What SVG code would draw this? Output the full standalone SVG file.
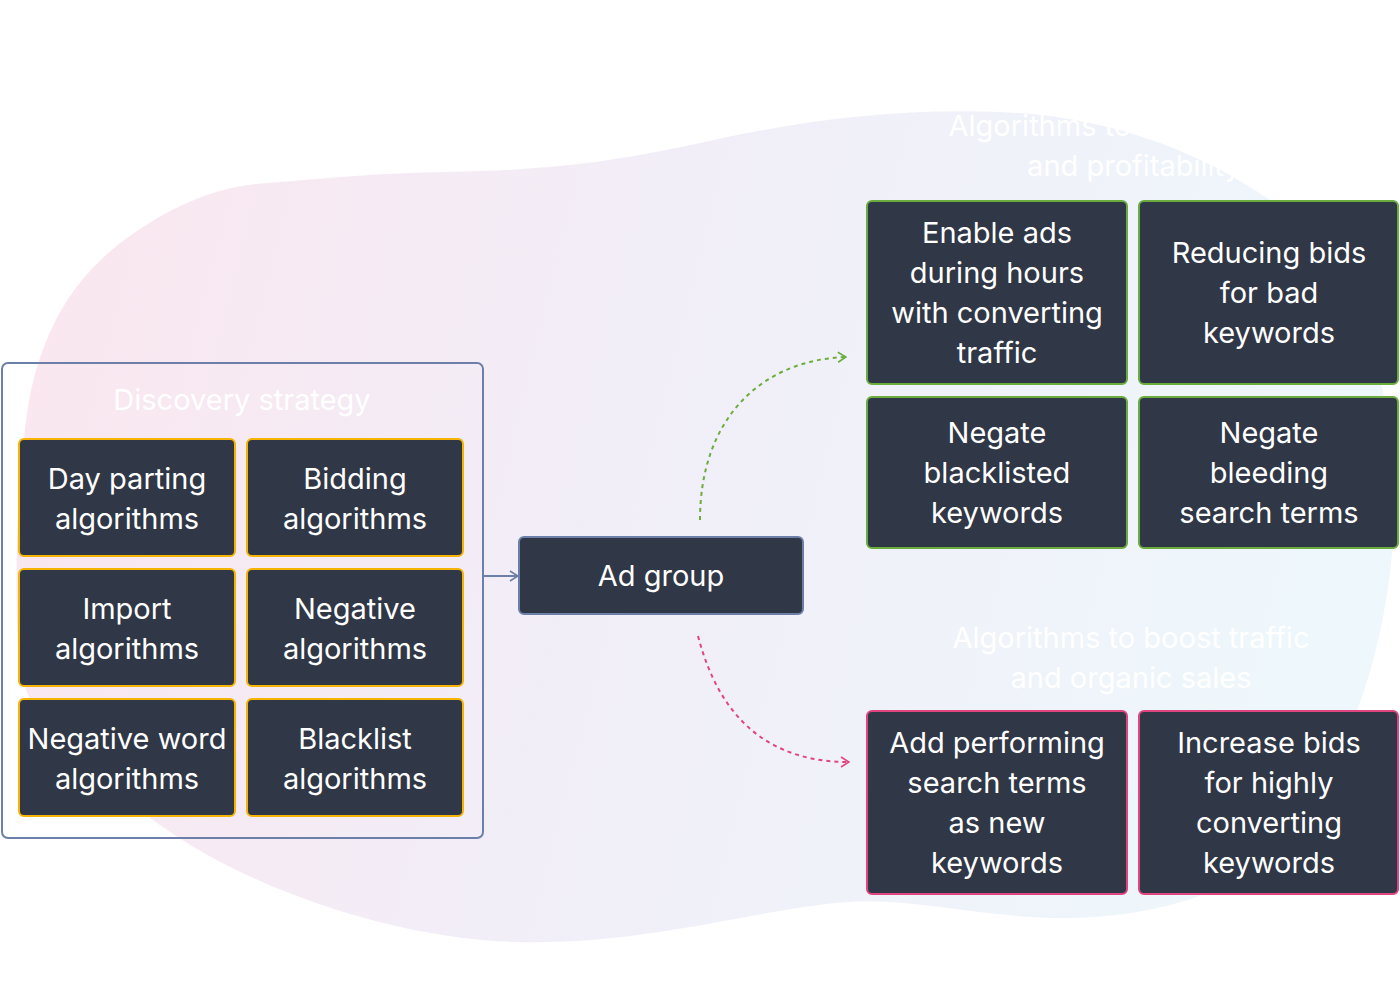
<svg xmlns="http://www.w3.org/2000/svg" width="1400" height="1001" viewBox="0 0 1400 1001">
  <defs>
    <linearGradient id="blobFill" x1="0" y1="0" x2="1" y2="0.15">
      <stop offset="0" stop-color="#fbe6ee"/>
      <stop offset="0.5" stop-color="#f1eef8"/>
      <stop offset="1" stop-color="#eef7fb"/>
    </linearGradient>
    <marker id="arrowSlate" viewBox="0 0 10 12" refX="9" refY="6" markerWidth="10" markerHeight="12" markerUnits="userSpaceOnUse" orient="auto">
      <path d="M1,1 L9,6 L1,11" fill="none" stroke="#6b7fa8" stroke-width="1.6"/>
    </marker>
    <marker id="arrowGreen" viewBox="0 0 10 12" refX="9" refY="6" markerWidth="10" markerHeight="12" markerUnits="userSpaceOnUse" orient="auto">
      <path d="M1,1 L9,6 L1,11" fill="none" stroke="#6aad3d" stroke-width="1.6"/>
    </marker>
    <marker id="arrowPink" viewBox="0 0 10 12" refX="9" refY="6" markerWidth="10" markerHeight="12" markerUnits="userSpaceOnUse" orient="auto">
      <path d="M1,1 L9,6 L1,11" fill="none" stroke="#e0457f" stroke-width="1.6"/>
    </marker>
  </defs>
  <style>
    text { font-family: Inter, "DejaVu Sans", sans-serif; font-size: 29px; fill: #ffffff; text-anchor: middle; }
    .card { fill: #303746; stroke-width: 2; }
    .amber { stroke: #f5b400; }
    .green { stroke: #6aad3d; }
    .pink { stroke: #e0457f; }
    .slate { stroke: #6b7fa8; }
    .frame { fill: none; stroke: #6b7fa8; stroke-width: 2; }
    .link { fill: none; stroke-width: 2; }
  </style>

  <rect x="0" y="0" width="1400" height="1001" fill="#ffffff"/>

  <!-- soft background blob -->
  <path id="blob" fill="url(#blobFill)" d="M18,650 C14,560 18,470 29,400 C45,320 80,270 134,233 C180,202 220,186 268,183 C330,178 380,173 446,172 C560,170 620,160 700,143 C800,120 900,108 1000,112 C1120,116 1220,160 1290,215 C1360,280 1398,390 1394,520 C1390,660 1330,840 1214,890 C1170,910 1100,922 1030,917 C960,912 900,898 848,902 C760,908 650,945 518,942 C400,940 250,890 160,825 C80,765 20,720 18,650 Z"/>

  <!-- section titles -->
  <g id="title-top">
    <text x="1134" y="136">Algorithms to reduce ACoS</text>
    <text x="1134" y="176">and profitability</text>
  </g>
  <g id="title-bottom">
    <text x="1131" y="648">Algorithms to boost traffic</text>
    <text x="1131" y="688">and organic sales</text>
  </g>

  <!-- discovery strategy group -->
  <g id="discovery">
    <rect class="frame" x="2" y="363" width="481" height="475" rx="6"/>
    <text x="242" y="410">Discovery strategy</text>
  </g>

  <g id="day-parting">
    <rect class="card amber" x="19" y="439" width="216" height="117" rx="5"/>
    <text x="127" y="489">Day parting</text>
    <text x="127" y="529">algorithms</text>
  </g>
  <g id="bidding">
    <rect class="card amber" x="247" y="439" width="216" height="117" rx="5"/>
    <text x="355" y="489">Bidding</text>
    <text x="355" y="529">algorithms</text>
  </g>
  <g id="import">
    <rect class="card amber" x="19" y="569" width="216" height="117" rx="5"/>
    <text x="127" y="619">Import</text>
    <text x="127" y="659">algorithms</text>
  </g>
  <g id="negative">
    <rect class="card amber" x="247" y="569" width="216" height="117" rx="5"/>
    <text x="355" y="619">Negative</text>
    <text x="355" y="659">algorithms</text>
  </g>
  <g id="negative-word">
    <rect class="card amber" x="19" y="699" width="216" height="117" rx="5"/>
    <text x="127" y="749">Negative word</text>
    <text x="127" y="789">algorithms</text>
  </g>
  <g id="blacklist">
    <rect class="card amber" x="247" y="699" width="216" height="117" rx="5"/>
    <text x="355" y="749">Blacklist</text>
    <text x="355" y="789">algorithms</text>
  </g>

  <g id="ad-group">
    <rect class="card slate" x="519" y="537" width="284" height="77" rx="5"/>
    <text x="661" y="586">Ad group</text>
  </g>

  <g id="enable-ads">
    <rect class="card green" x="867" y="201" width="260" height="183" rx="5"/>
    <text x="997" y="243">Enable ads</text>
    <text x="997" y="283">during hours</text>
    <text x="997" y="323">with converting</text>
    <text x="997" y="363">traffic</text>
  </g>
  <g id="reducing-bids">
    <rect class="card green" x="1139" y="201" width="259" height="183" rx="5"/>
    <text x="1269" y="263">Reducing bids</text>
    <text x="1269" y="303">for bad</text>
    <text x="1269" y="343">keywords</text>
  </g>
  <g id="negate-blacklisted">
    <rect class="card green" x="867" y="397" width="260" height="151" rx="5"/>
    <text x="997" y="443">Negate</text>
    <text x="997" y="483">blacklisted</text>
    <text x="997" y="523">keywords</text>
  </g>
  <g id="negate-bleeding">
    <rect class="card green" x="1139" y="397" width="259" height="151" rx="5"/>
    <text x="1269" y="443">Negate</text>
    <text x="1269" y="483">bleeding</text>
    <text x="1269" y="523">search terms</text>
  </g>
  <g id="add-performing">
    <rect class="card pink" x="867" y="711" width="260" height="183" rx="5"/>
    <text x="997" y="753">Add performing</text>
    <text x="997" y="793">search terms</text>
    <text x="997" y="833">as new</text>
    <text x="997" y="873">keywords</text>
  </g>
  <g id="increase-bids">
    <rect class="card pink" x="1139" y="711" width="259" height="183" rx="5"/>
    <text x="1269" y="753">Increase bids</text>
    <text x="1269" y="793">for highly</text>
    <text x="1269" y="833">converting</text>
    <text x="1269" y="873">keywords</text>
  </g>

  <!-- connectors -->
  <g id="connectors">
    <path class="link" stroke="#6b7fa8" d="M483,576 L518,576" marker-end="url(#arrowSlate)"/>
    <path class="link" stroke="#6aad3d" stroke-dasharray="4 4" d="M700,520 C700,420 760,360 846,357" marker-end="url(#arrowGreen)"/>
    <path class="link" stroke="#e0457f" stroke-dasharray="4 4" d="M698,636 C720,720 770,762 849,762" marker-end="url(#arrowPink)"/>
  </g>
</svg>
